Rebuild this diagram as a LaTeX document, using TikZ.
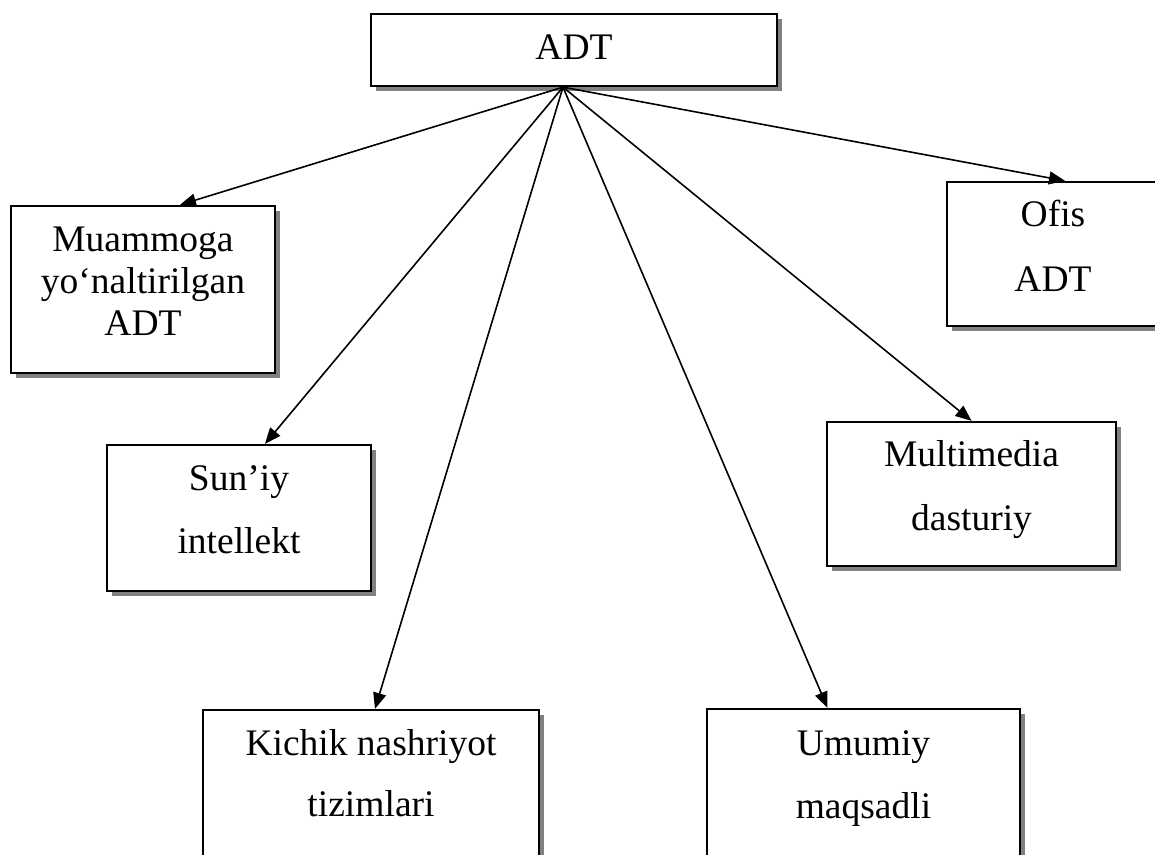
\documentclass[tikz,border=0pt]{standalone}
\usepackage{fontspec}
\setmainfont{Liberation Serif}
\usetikzlibrary{arrows.meta,shadows}

\tikzset{
  box/.style={draw=black, line width=2.3pt, fill=white, rectangle, inner sep=0pt,
    drop shadow={shadow xshift=5pt, shadow yshift=-5pt, fill=black!50, opacity=1}},
  txt/.style={inner sep=0pt, anchor=base, font=\fontsize{37.5}{44}\selectfont},
  arr/.style={line width=1.6pt, -{Triangle[length=16pt,width=13pt]}}
}

\begin{document}
\begin{tikzpicture}[x=1pt, y=-1pt]
  \useasboundingbox (0,0) rectangle (1155,854);
  \clip (0,0) rectangle (1155,854);

  % boxes
  \node[box, minimum width=406pt, minimum height=72pt]  (adt)    at (574,50)    {};
  \node[box, minimum width=264pt, minimum height=167pt] (mu)     at (143,289.5) {};
  \node[box, minimum width=212pt, minimum height=144pt] (ofis)   at (1053,254)  {};
  \node[box, minimum width=264pt, minimum height=146pt] (sun)    at (239,518)   {};
  \node[box, minimum width=289pt, minimum height=144pt] (multi)  at (971.5,494) {};
  \node[box, minimum width=336pt, minimum height=170pt] (kichik) at (371,795)   {};
  \node[box, minimum width=313pt, minimum height=171pt] (umumiy) at (863.5,794.5) {};

  % labels
  \node[txt] (adt-1) at ([yshift=-47pt]adt.north) {ADT};

  \node[txt] (mu-1) at ([yshift=-47pt]mu.north) {Muammoga};
  \node[txt] (mu-2) at ([yshift=-89pt]mu.north) {yo‘naltirilgan};
  \node[txt] (mu-3) at ([yshift=-131pt]mu.north) {ADT};

  \node[txt] (ofis-1) at ([yshift=-46pt]ofis.north) {Ofis};
  \node[txt] (ofis-2) at ([yshift=-111pt]ofis.north) {ADT};

  \node[txt] (sun-1) at ([yshift=-47pt]sun.north) {Sun’iy};
  \node[txt] (sun-2) at ([yshift=-110pt]sun.north) {intellekt};

  \node[txt] (multi-1) at ([yshift=-46pt]multi.north) {Multimedia};
  \node[txt] (multi-2) at ([yshift=-110pt]multi.north) {dasturiy};

  \node[txt] (kichik-1) at ([yshift=-47pt]kichik.north) {Kichik nashriyot};
  \node[txt] (kichik-2) at ([yshift=-108pt]kichik.north) {tizimlari};

  \node[txt] (umumiy-1) at ([yshift=-48pt]umumiy.north) {Umumiy};
  \node[txt] (umumiy-2) at ([yshift=-111pt]umumiy.north) {maqsadli};

  % connectors from one point under the top box
  \coordinate (apex) at ([xshift=-11pt]adt.south);
  \draw[arr] (apex) -- ([xshift=37pt]mu.north);
  \draw[arr] (apex) -- ([xshift=12pt]ofis.north);
  \draw[arr] (apex) -- ([xshift=26pt]sun.north);
  \draw[arr] (apex) -- (multi.north);
  \draw[arr] (apex) -- ([xshift=4pt]kichik.north);
  \draw[arr] (apex) -- ([xshift=-36pt]umumiy.north);
\end{tikzpicture}
\end{document}
